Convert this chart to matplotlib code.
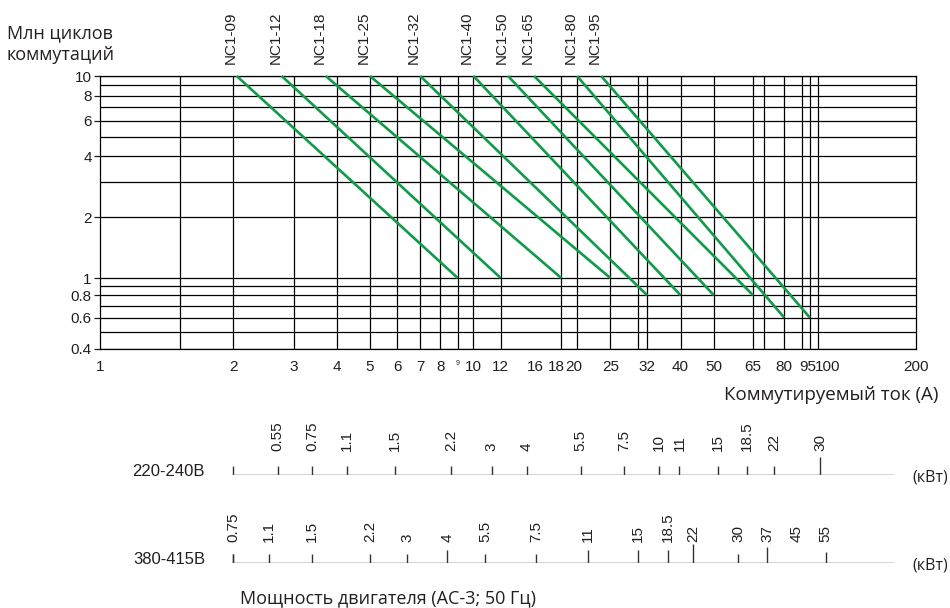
import matplotlib
matplotlib.use('Agg')
import matplotlib.pyplot as plt
import matplotlib.ticker as ticker
import matplotlib.transforms as mtransforms
import numpy as np

# ---------------------- Data ----------------------
models = ['NC1-09', 'NC1-12', 'NC1-18', 'NC1-25', 'NC1-32',
          'NC1-40', 'NC1-50', 'NC1-65', 'NC1-80', 'NC1-95']
# each curve: (current at 10 mln cycles) -> (rated current, end cycles)
amp_start = [2.05, 2.77, 3.72, 5.0, 7.0, 10.0, 12.6, 15.0, 20.0, 23.5]
cyc_start = [10, 10, 10, 10, 10, 10, 10, 10, 10, 10]
amp_end = [9, 12, 18, 25, 32, 40, 50, 65, 80, 95]
cyc_end = [1, 1, 1, 1, 0.8, 0.8, 0.8, 0.8, 0.6, 0.6]

grid_x = [1.6, 2, 3, 4, 5, 6, 7, 8, 9, 10, 12, 18, 20, 25, 30, 32,
          40, 50, 65, 70, 80, 90, 95, 100]
grid_y = [0.4, 0.5, 0.6, 0.7, 0.8, 0.9, 1, 2, 3, 4, 5, 6, 7, 8, 9, 10]
xtick_vals = [1, 2, 3, 4, 5, 6, 7, 8, 9, 10, 12, 16, 18, 20, 25, 32,
              40, 50, 65, 80, 95, 100, 200]
ytick_vals = [0.4, 0.6, 0.8, 1, 2, 4, 6, 8, 10]
ytick_labels = ['0.4', '0.6', '0.8', '1', '2', '4', '6', '8', '10']

# motor power scales (kW) and matching current (A)
kw_220 = ['0.55', '0.75', '1.1', '1.5', '2.2', '3', '4', '5.5', '7.5',
          '10', '11', '15', '18.5', '22', '30']
amp_220 = [2.7, 3.4, 4.3, 5.9, 8.6, 11.3, 14.3, 20.5, 27.4, 34.7, 39.7,
           51.4, 62.2, 74.7, 102]
kw_380 = ['0.75', '1.1', '1.5', '2.2', '3', '4', '5.5', '7.5', '11', '15',
          '18.5', '22', '30', '37', '45', '55']
amp_380 = [2.0, 2.54, 3.4, 5.0, 6.43, 8.4, 10.8, 15.2, 21.5, 30, 36.8,
           43.6, 58.9, 71.3, 87, 106]

# ---------------------- Style ----------------------
GREEN = '#0e9b4a'
TXT = '#231f20'
ARIAL = 'Liberation Sans'
SEGOE = 'Open Sans'
W, H = 950, 608

# log axes, squeezed at the ends like the printed chart
L2 = np.log10(2)
CX = 0.3866     # 1..2 A squeezed into this many decades
KX = 0.951      # 100..200 A squeeze
KY = 0.883      # below 1 mln squeeze


def fwd_x(x):
    x = np.asarray(x, float)
    lx = np.log10(np.clip(x, 1e-6, None))
    return np.where(x < 2, L2 - (2 - x) * CX,
                    np.where(x > 100, 2 + (lx - 2) * KX, lx))


def inv_x(u):
    u = np.asarray(u, float)
    return np.where(u < L2, 2 - (L2 - u) / CX,
                    np.where(u > 2, 10 ** np.minimum(2 + (u - 2) / KX, 10),
                             10 ** np.minimum(u, 10)))


def fwd_y(y):
    ly = np.log10(np.clip(np.asarray(y, float), 1e-6, None))
    return np.where(ly < 0, ly * KY, ly)


def inv_y(u):
    u = np.asarray(u, float)
    return np.where(u < 0, 10 ** np.maximum(u / KY, -10), 10 ** np.minimum(u, 10))


fig = plt.figure(figsize=(W / 100, H / 100), dpi=100)
ax_l, ax_r, ax_t, ax_b = 100, 916, 76, 349
ax = fig.add_axes([ax_l / W, 1 - ax_b / H, (ax_r - ax_l) / W, (ax_b - ax_t) / H])
ax.set_xscale('function', functions=(fwd_x, inv_x))
ax.set_yscale('function', functions=(fwd_y, inv_y))
ax.set_xlim(1, 200)
ax.set_ylim(0.4, 10)

ax.vlines(grid_x, 0.4, 10, color='k', lw=0.9, zorder=1)
ax.hlines(grid_y, 1, 200, color='k', lw=0.9, zorder=1)
for sp in ax.spines.values():
    sp.set_linewidth(0.9)

for s, cs, e, ce in zip(amp_start, cyc_start, amp_end, cyc_end):
    ax.plot([s, e], [cs, ce], color=GREEN, lw=1.9, zorder=3,
            solid_capstyle='butt', clip_on=False)

for m, s in zip(models, amp_start):
    ax.annotate(m, xy=(s, 10), xytext=(-4.5, 9), textcoords='offset points',
                rotation=90, ha='center', va='bottom', fontsize=11,
                family=ARIAL, color=TXT)

ax.set_xticks(xtick_vals)
ax.set_xticklabels([str(v) for v in xtick_vals])
ax.xaxis.set_minor_locator(ticker.NullLocator())
ax.set_yticks(ytick_vals)
ax.set_yticklabels(ytick_labels)
ax.yaxis.set_minor_locator(ticker.NullLocator())
ax.tick_params(axis='x', length=0, pad=8, labelsize=11, colors=TXT)
ax.tick_params(axis='y', length=4, width=0.9, pad=2, labelsize=11, colors=TXT)
for lab in ax.get_xticklabels() + ax.get_yticklabels():
    lab.set_family(ARIAL)

# crowded x labels nudged sideways (px), as in the print
nudge = {16: -8, 18: -5, 20: -3, 95: -2, 100: 10}
for lab, v in zip(ax.get_xticklabels(), xtick_vals):
    if v == 9:
        lab.set_fontsize(5)
    if v in nudge:
        lab.set_transform(lab.get_transform() +
                          mtransforms.ScaledTranslation(nudge[v] / 100, 0, fig.dpi_scale_trans))

fig.text(7 / W, 1 - 44 / H, 'Млн циклов\nкоммутаций', ha='left', va='center',
         fontsize=13, family=SEGOE, color=TXT, linespacing=1.25)
fig.text(938 / W, 1 - 395 / H, 'Коммутируемый ток (А)', ha='right',
         va='center', fontsize=13.5, family=SEGOE, color=TXT)


# ---------------------- Power scales ----------------------
def draw_scale(y_px, amps, labels, long_ticks, gap, name):
    sax = fig.add_axes([ax_l / W, 1 - y_px / H, (ax_r - ax_l) / W, 60 / H], sharex=ax)
    sax.set_ylim(0, 60)
    sax.axis('off')
    sax.plot([2, 170], [0, 0], color='#333333', lw=1)
    sax.vlines([2], 0, 9, color='#333333', lw=1)
    for a, lab in zip(amps, labels):
        ln = long_ticks.get(lab, 9)
        if ln > 0:
            sax.vlines([a], 0, ln, color='#333333', lw=1)
        sax.text(a, gap, lab, rotation=90, ha='center', va='bottom',
                 fontsize=11, family=ARIAL, color=TXT)
    fig.text(205 / W, 1 - (y_px - 4) / H, name, ha='right', va='center',
             fontsize=12, family=ARIAL, color=TXT)
    fig.text(912 / W, 1 - (y_px + 2) / H, '(кВт)', ha='left', va='center',
             fontsize=11.5, family=SEGOE, color=TXT)


draw_scale(475, amp_220, kw_220, {'30': 18}, 24, '220-240В')
draw_scale(563, amp_380, kw_380,
           {'4': 13, '11': 13, '15': 13, '18.5': 13, '22': 19, '37': 16,
            '55': 11, '45': 0}, 21, '380-415В')

fig.text(240 / W, 1 - 598 / H, 'Мощность двигателя (АС-3; 50 Гц)', ha='left',
         va='center', fontsize=13, family=SEGOE, color=TXT)

fig.savefig('out.png', dpi=100)
